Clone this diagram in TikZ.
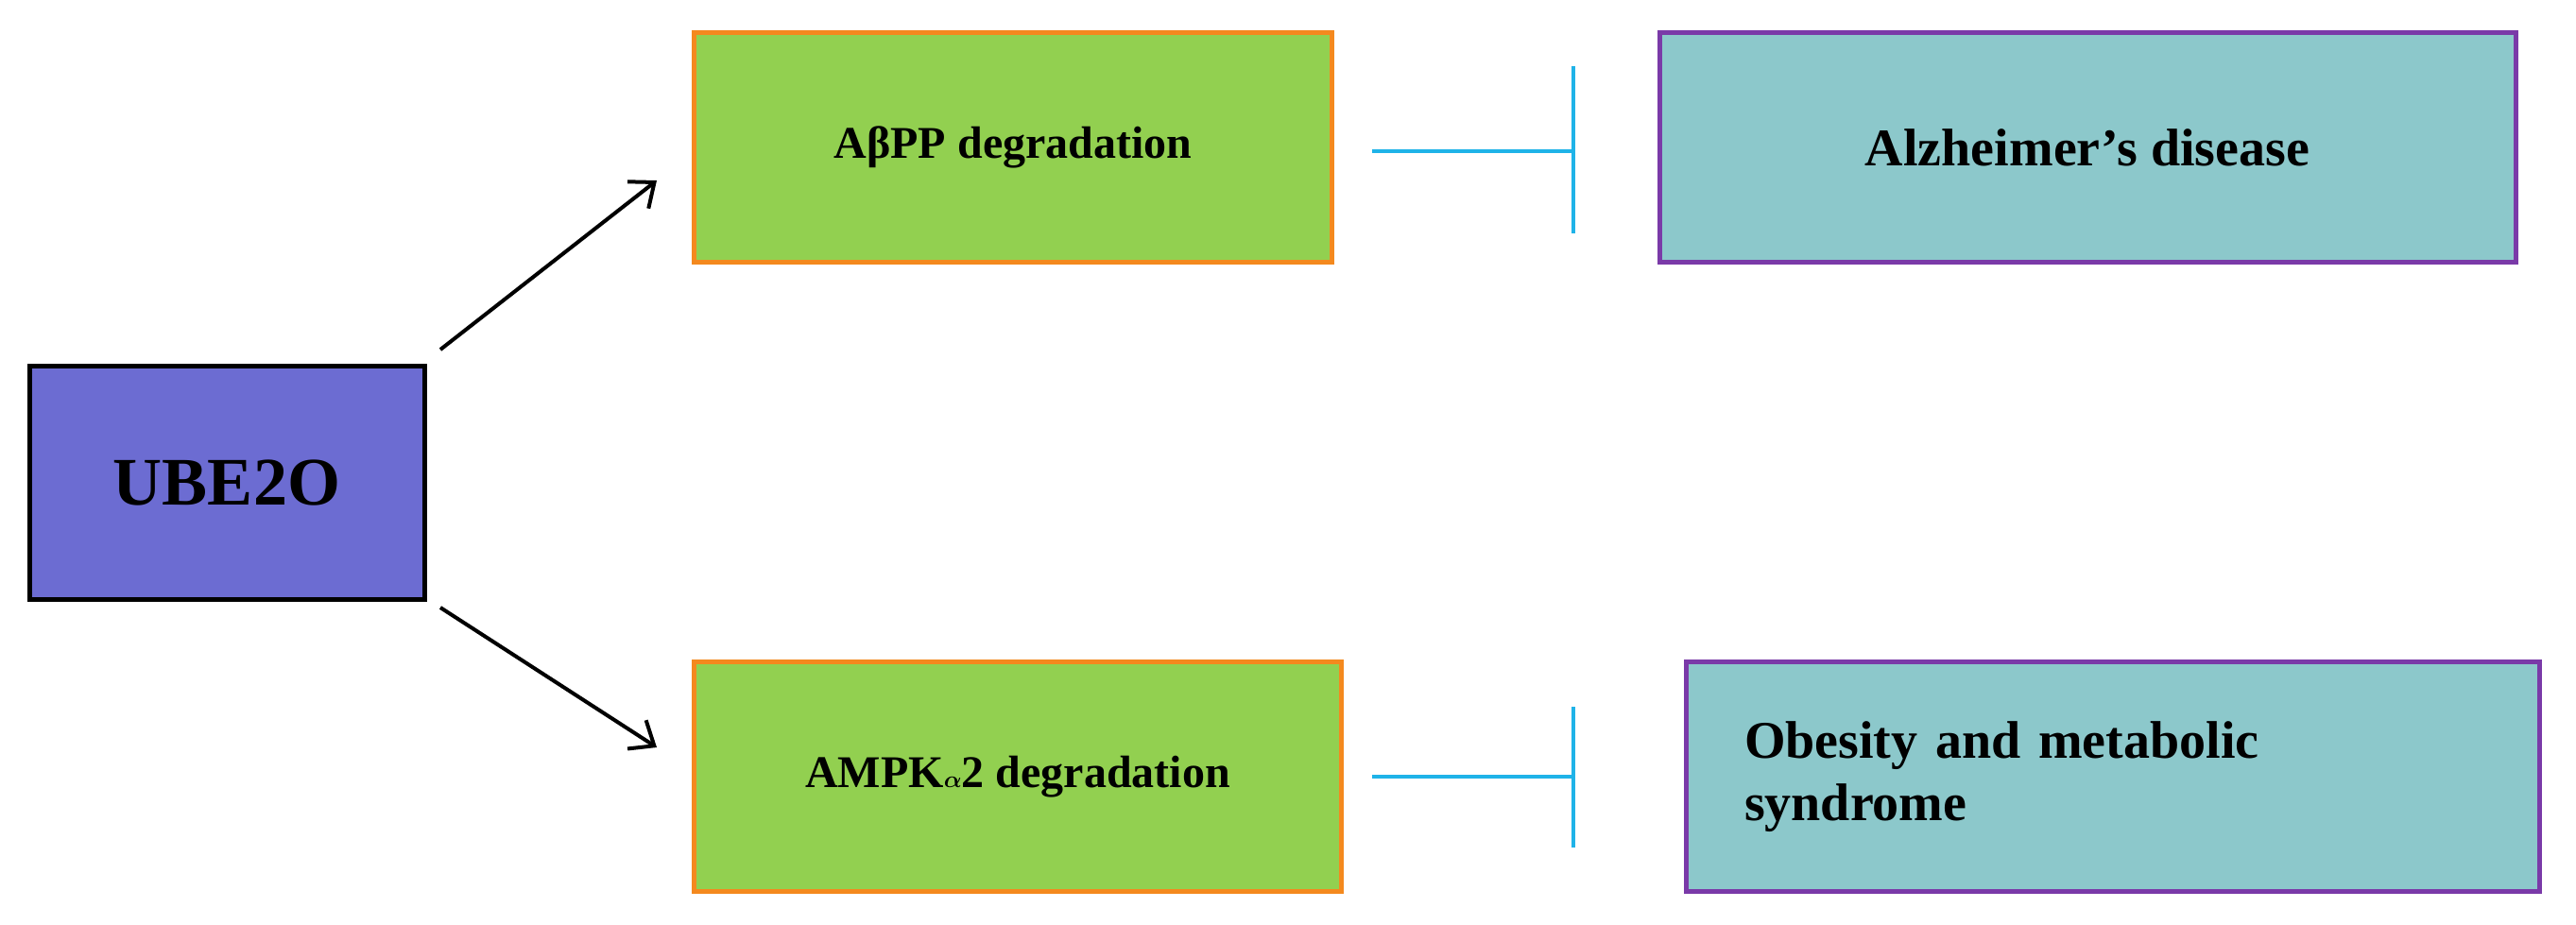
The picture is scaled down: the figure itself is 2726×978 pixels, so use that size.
\documentclass[tikz,border=0pt]{standalone}
\usepackage{amsmath,bm}
\usepackage{fontspec}
\setmainfont{Liberation Serif}
\usetikzlibrary{arrows.meta}
\definecolor{ubefill}{HTML}{6C6CD2}
\definecolor{grn}{HTML}{92D050}
\definecolor{org}{HTML}{F4891E}
\definecolor{teal}{HTML}{8CC8CB}
\definecolor{purp}{HTML}{7A3AA8}
\definecolor{cyn}{HTML}{1FB3E8}
\begin{document}
\begin{tikzpicture}[x=1pt,y=-1pt,
  box/.style={draw,line width=5pt,inner sep=0pt,font=\bfseries},
  gbox/.style={box,fill=grn,draw=org,font=\bfseries\fontsize{48}{56}\selectfont},
  tbox/.style={box,fill=teal,draw=purp,font=\bfseries\fontsize{56}{66}\selectfont,align=left},
  arr/.style={line width=4pt,-{Straight Barb[length=22pt,width=36pt,line width=4pt]}},
  inh/.style={line width=4pt,draw=cyn}]
\useasboundingbox (0,0) rectangle (2726,978);
\node[box,fill=ubefill,draw=black,minimum width=418pt,minimum height=247pt,font=\bfseries\fontsize{72}{80}\selectfont] (ube) at (240,511) {UBE2O};
\node[gbox,minimum width=675pt,minimum height=243pt] (abpp) at (1072,156) {AβPP degradation};
\node[gbox,minimum width=685pt,minimum height=243pt] (ampk) at (1077,822) {AMPK$\bm{\alpha}$2 degradation};
\node[tbox,minimum width=906pt,minimum height=243pt] (alz) at (2209,156) {Alzheimer’s disease};
\node[tbox,minimum width=903pt,minimum height=243pt,text width=780pt] (obe) at (2236,822) {Obesity and metabolic\\syndrome};
\coordinate (a1) at (466,370); \coordinate (a2) at (695,191);
\coordinate (b1) at (466,643); \coordinate (b2) at (695,791);
\draw[arr] (a1) -- (a2);
\draw[arr] (b1) -- (b2);
\coordinate (i1) at (1452,160); \coordinate (i2) at (1665,160);
\coordinate (j1) at (1452,822); \coordinate (j2) at (1665,822);
\draw[inh] (i1) -- (i2); \draw[inh] (1665,70) -- (1665,247);
\draw[inh] (j1) -- (j2); \draw[inh] (1665,748) -- (1665,897);
\end{tikzpicture}
\end{document}
